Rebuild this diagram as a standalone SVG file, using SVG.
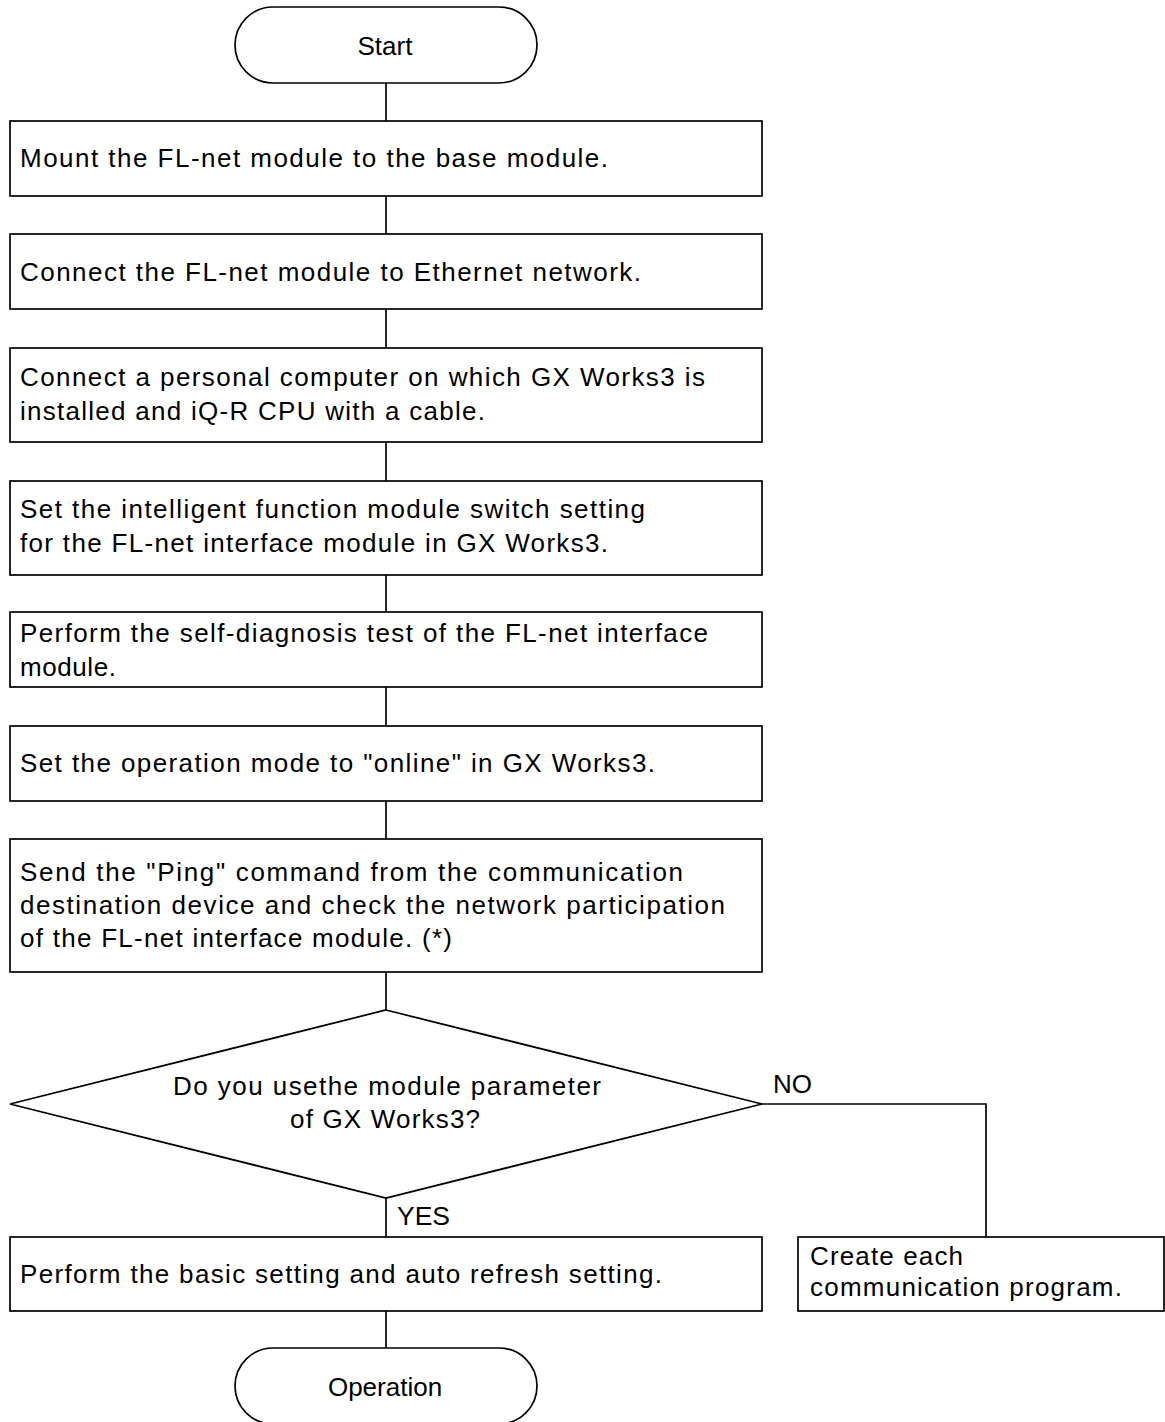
<svg xmlns="http://www.w3.org/2000/svg" width="1165" height="1422" viewBox="0 0 1165 1422">
<style>
.s{fill:#fff;stroke:#000;stroke-width:1.7}
.c{fill:none;stroke:#000;stroke-width:1.7}
text{font-family:"Liberation Sans",Arial,sans-serif;font-size:26px;fill:#000}
.m{text-anchor:middle}
</style>
<rect width="1165" height="1422" fill="#fff"/>
<g id="connectors">
<line class="c" x1="386" y1="83" x2="386" y2="121"/>
<line class="c" x1="386" y1="196" x2="386" y2="234"/>
<line class="c" x1="386" y1="309" x2="386" y2="348"/>
<line class="c" x1="386" y1="442" x2="386" y2="481"/>
<line class="c" x1="386" y1="575" x2="386" y2="612"/>
<line class="c" x1="386" y1="687" x2="386" y2="726"/>
<line class="c" x1="386" y1="801" x2="386" y2="839"/>
<line class="c" x1="386" y1="972" x2="386" y2="1010"/>
<line class="c" x1="386" y1="1198" x2="386" y2="1237"/>
<polyline class="c" points="762,1104 986,1104 986,1237"/>
<line class="c" x1="386" y1="1311" x2="386" y2="1348"/>
<text x="397" y="1225" textLength="53" lengthAdjust="spacingAndGlyphs">YES</text>
<text x="773" y="1093" textLength="39" lengthAdjust="spacingAndGlyphs">NO</text>
</g>
<g id="start">
<rect class="s" x="235" y="7" width="302" height="76" rx="38" ry="38"/>
<text class="m" x="385" y="55">Start</text>
</g>
<g id="step1">
<rect class="s" x="10" y="121" width="752" height="75"/>
<text x="20" y="167" textLength="588" lengthAdjust="spacing">Mount the FL-net module to the base module.</text>
</g>
<g id="step2">
<rect class="s" x="10" y="234" width="752" height="75"/>
<text x="20" y="281" textLength="621" lengthAdjust="spacing">Connect the FL-net module to Ethernet network.</text>
</g>
<g id="step3">
<rect class="s" x="10" y="348" width="752" height="94"/>
<text x="20" y="386" textLength="685" lengthAdjust="spacing">Connect a personal computer on which GX Works3 is</text>
<text x="20" y="420" textLength="465" lengthAdjust="spacing">installed and iQ-R CPU with a cable.</text>
</g>
<g id="step4">
<rect class="s" x="10" y="481" width="752" height="94"/>
<text x="20" y="518" textLength="625" lengthAdjust="spacing">Set the intelligent function module switch setting</text>
<text x="20" y="552" textLength="588" lengthAdjust="spacing">for the FL-net interface module in GX Works3.</text>
</g>
<g id="step5">
<rect class="s" x="10" y="612" width="752" height="75"/>
<text x="20" y="642" textLength="688" lengthAdjust="spacing">Perform the self-diagnosis test of the FL-net interface</text>
<text x="20" y="676" textLength="96" lengthAdjust="spacing">module.</text>
</g>
<g id="step6">
<rect class="s" x="10" y="726" width="752" height="75"/>
<text x="20" y="772" textLength="635" lengthAdjust="spacing">Set the operation mode to "online" in GX Works3.</text>
</g>
<g id="step7">
<rect class="s" x="10" y="839" width="752" height="133"/>
<text x="20" y="881" textLength="663" lengthAdjust="spacing">Send the "Ping" command from the communication</text>
<text x="20" y="914" textLength="705" lengthAdjust="spacing">destination device and check the network participation</text>
<text x="20" y="947" textLength="432" lengthAdjust="spacing">of the FL-net interface module. (*)</text>
</g>
<g id="decision">
<polygon class="s" points="386,1010 762,1104 386,1198 10,1104"/>
<text x="173" y="1095" textLength="428" lengthAdjust="spacing">Do you usethe module parameter</text>
<text x="290" y="1128" textLength="190" lengthAdjust="spacing">of GX Works3?</text>
</g>
<g id="step8">
<rect class="s" x="10" y="1237" width="752" height="74"/>
<text x="20" y="1283" textLength="642" lengthAdjust="spacing">Perform the basic setting and auto refresh setting.</text>
</g>
<g id="create">
<rect class="s" x="798" y="1237" width="366" height="74"/>
<text x="810" y="1265" textLength="153" lengthAdjust="spacing">Create each</text>
<text x="810" y="1296" textLength="312" lengthAdjust="spacing">communication program.</text>
</g>
<g id="operation">
<rect class="s" x="235" y="1348" width="302" height="76" rx="38" ry="38"/>
<text class="m" x="385" y="1396">Operation</text>
</g>
</svg>
